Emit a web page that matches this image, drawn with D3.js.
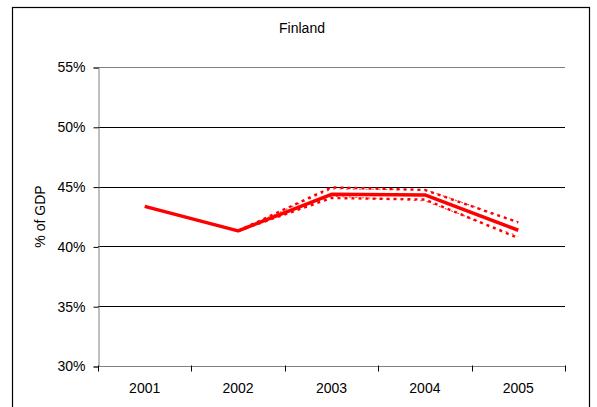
<!DOCTYPE html>
<html>
<head>
<meta charset="utf-8">
<script src="https://cdn.jsdelivr.net/npm/d3@7"></script>
<style>
  html, body { margin: 0; padding: 0; background: #fff; }
  svg { display: block; font-family: "Liberation Sans", Arial, sans-serif; }
</style>
</head>
<body>
<svg id="chart" width="597" height="407"></svg>
<script>
// ---- data ----
const years = ["2001", "2002", "2003", "2004", "2005"];
const yTicks = [30, 35, 40, 45, 50, 55];
const mainSeries = [43.35, 41.3, 44.35, 44.3, 41.35];
const highHeavy  = [null, 41.3, 44.93, 44.72, 42.0];
const lowHeavy   = [null, 41.3, 44.05, 43.92, 40.7];
const highLight  = [null, 41.3, 44.8, 44.75, 42.05];
const lowLight   = [null, 41.3, 44.2, 43.8, 40.85];
const chartTitle = "Finland";
const yTitle = "% of GDP";

// ---- layout ----
const svg = d3.select("#chart");
const pLeft = 98, pRight = 565, pTop = 67, pBottom = 366;

svg.append("rect")
  .attr("x", 12.5).attr("y", 7.5)
  .attr("width", 577).attr("height", 420)
  .attr("fill", "#fff").attr("stroke", "#000").attr("stroke-width", 1.2);

const x = d3.scaleBand().domain(years).range([pLeft, pRight]);
const y = d3.scaleLinear().domain([30, 55]).range([pBottom, pTop]);

// gridlines
svg.append("g").selectAll("line").data(yTicks.filter(d => d > 30)).join("line")
  .attr("x1", pLeft).attr("x2", pRight)
  .attr("y1", d => Math.round(y(d)) + 0.5).attr("y2", d => Math.round(y(d)) + 0.5)
  .attr("stroke", d => d === 55 ? "#808080" : "#000")
  .attr("stroke-width", 1);

// y axis
const yAxis = d3.axisLeft(y).tickValues(yTicks).tickFormat(d => d + "%").tickSize(5).tickPadding(8);
const gy = svg.append("g").attr("transform", `translate(${pLeft + 0.5},0.5)`).call(yAxis);
gy.select(".domain").attr("stroke", "#808080");
gy.selectAll(".tick line").attr("stroke", "#000");
gy.selectAll("text").attr("font-size", 14).attr("fill", "#000")
  .attr("font-family", "'Liberation Sans', Arial, sans-serif");

// x axis: ticks between categories
const gx = svg.append("g").attr("transform", `translate(0,${pBottom + 0.5})`);
gx.append("line").attr("x1", pLeft).attr("x2", pRight).attr("stroke", "#808080");
const boundaries = years.map(d => x(d)).concat([x(years[years.length - 1]) + x.bandwidth()]);
gx.selectAll("line.tk").data(boundaries).join("line").attr("class", "tk")
  .attr("x1", d => Math.round(d) + 0.5).attr("x2", d => Math.round(d) + 0.5)
  .attr("y1", -1).attr("y2", 5).attr("stroke", "#000");
gx.selectAll("text").data(years).join("text")
  .attr("x", d => x(d) + x.bandwidth() / 2).attr("y", 26.5)
  .attr("text-anchor", "middle").attr("font-size", 14).text(d => d);

// titles
svg.append("text").attr("x", 302).attr("y", 33).attr("text-anchor", "middle")
  .attr("font-size", 14).text(chartTitle);
svg.append("text").attr("transform", `translate(45,${(pTop + pBottom) / 2}) rotate(-90)`)
  .attr("text-anchor", "middle").attr("font-size", 14).text(yTitle);

// lines
const line = d3.line()
  .defined(d => d != null)
  .x((d, i) => x(years[i]) + x.bandwidth() / 2)
  .y(d => y(d));

svg.append("path").datum(highLight).attr("d", line).attr("fill", "none")
  .attr("stroke", "#ff0000").attr("stroke-width", 1.1).attr("stroke-opacity", 0.75)
  .attr("stroke-dasharray", "2,4.5");
svg.append("path").datum(lowLight).attr("d", line).attr("fill", "none")
  .attr("stroke", "#ff0000").attr("stroke-width", 1.1).attr("stroke-opacity", 0.75)
  .attr("stroke-dasharray", "2,4.5");
svg.append("path").datum(highHeavy).attr("d", line).attr("fill", "none")
  .attr("stroke", "#ff0000").attr("stroke-width", 2.4)
  .attr("stroke-dasharray", "3,4");
svg.append("path").datum(lowHeavy).attr("d", line).attr("fill", "none")
  .attr("stroke", "#ff0000").attr("stroke-width", 2.4)
  .attr("stroke-dasharray", "3,4");
svg.append("path").datum(mainSeries).attr("d", line).attr("fill", "none")
  .attr("stroke", "#ff0000").attr("stroke-width", 3.5).attr("stroke-linejoin", "round");
</script>
</body>
</html>
